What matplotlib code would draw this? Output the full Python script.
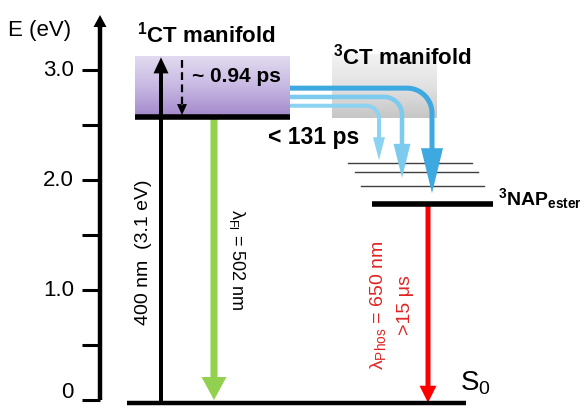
import numpy as np
import matplotlib
matplotlib.use("Agg")
import matplotlib.pyplot as plt
from matplotlib.colors import LinearSegmentedColormap

plt.rcParams['font.family'] = ['Liberation Sans', 'DejaVu Sans']
plt.rcParams['mathtext.fontset'] = 'custom'
plt.rcParams['mathtext.rm'] = 'Liberation Sans'
plt.rcParams['mathtext.bf'] = 'Liberation Sans:bold'
plt.rcParams['mathtext.it'] = 'Liberation Sans:italic'

# energy axis (eV)
tick_values = [0, 0.5, 1.0, 1.5, 2.0, 2.5, 3.0]
tick_labels = ["0", "", "1.0", "", "2.0", "", "3.0"]
axis_top = 3.5

# states (eV)
ground_level = -0.025
ct1_level = 2.57
ct1_top = 3.12
ct3_bottom = 2.56
ct3_top = 3.14
nap_level = 1.78
vib_levels = [2.155, 2.075, 1.945]

# intersystem crossing arrows: start energy, end energy
isc_start = [2.835, 2.755, 2.675]
isc_end = [1.88, 2.02, 2.18]
isc_colors = ["#3ea8e0", "#7ccbee", "#8cd2f1"]

PX = 110.0  # pixels per eV

fig = plt.figure(figsize=(5.88, 4.07), dpi=100)
ax = fig.add_axes([0, 0, 1, 1])


def varrow(x, y0, y1, color, shaft, hw, hl, z=3):
    ax.arrow(x, y0, 0, y1 - y0, width=shaft, head_width=hw, head_length=hl / PX,
             length_includes_head=True, color=color, lw=0, zorder=z)


# manifolds as gradient boxes
grad = np.linspace(0, 1, 256).reshape(-1, 1)
purple = LinearSegmentedColormap.from_list("p", ["#a288cc", "#c7b8e2", "#e2dbf0"])
gray = LinearSegmentedColormap.from_list("g", ["#c6c6c6", "#e2e2e2", "#f3f3f3"])
ax.imshow(grad, extent=[135, 290, ct1_level, ct1_top], cmap=purple, aspect='auto',
          origin='lower', zorder=1)
ax.imshow(grad, extent=[332, 437, ct3_bottom, ct3_top], cmap=gray, aspect='auto',
          origin='lower', zorder=1)

# energy axis
ax.plot([100, 100], [0, axis_top - 0.05], color='k', lw=3.2, solid_capstyle='butt', zorder=4)
varrow(100, axis_top - 0.12, axis_top, 'k', 4.4, 13, 12, z=4)
for v, lab in zip(tick_values, tick_labels):
    ax.plot([82, 100], [v, v], color='k', lw=2.2, solid_capstyle='butt', zorder=4)
    if lab:
        # keep the bottom label inside the picture
        ax.text(74, max(v, 0.07), lab, ha='right', va='center', fontsize=16)
ax.text(8, 3.36, "E (eV)", ha='left', va='center', fontsize=16)

# levels
ax.plot([127, 466], [ground_level, ground_level], color='k', lw=3.2, solid_capstyle='butt', zorder=4)
ax.plot([135, 290], [ct1_level, ct1_level], color='k', lw=4, solid_capstyle='butt', zorder=4)
ax.plot([372, 493], [nap_level, nap_level], color='k', lw=4, solid_capstyle='butt', zorder=4)
vib_x = [(348, 472), (355, 478), (361, 484)]
for (xa, xb), v in zip(vib_x, vib_levels):
    ax.plot([xa, xb], [v, v], color='#404040', lw=1.0, zorder=2)

# excitation, fluorescence, phosphorescence
varrow(161, ground_level, ct1_top - 0.005, 'k', 4, 15, 16)
varrow(214, ct1_level, 0.0, '#92d050', 7, 25, 23)
varrow(428, nap_level, ground_level, '#ff0000', 5, 17, 17)

# relaxation inside 1CT manifold
ax.plot([182, 182], [3.09, 2.68], color='k', lw=1.6, dashes=(3.5, 2), zorder=3)
varrow(182, 2.68, ct1_level + 0.02, 'k', 1.5, 10, 11)

# ISC arrows
corner_x = [432, 402, 379]
radius = [25, 18, 13]
shaft = [5, 4.5, 4]
heads = [(22, 45), (17, 34), (12, 23)]
for y0, y1, xc, r, s, (hw, hl), c in zip(isc_start, isc_end, corner_x, radius, shaft, heads, isc_colors):
    t = np.linspace(np.pi / 2, 0, 30)
    cx, cy = xc - r, y0 - r / PX
    xs = np.concatenate([[290], cx + r * np.cos(t)])
    ys = np.concatenate([[y0], cy + (r / PX) * np.sin(t)])
    ax.plot(xs, ys, color=c, lw=s * 0.72, solid_capstyle='butt', zorder=3)
    varrow(xc, cy + 0.002, y1, c, s, hw, hl)

# labels
ax.text(137, 3.32, "$^{\\mathbf{1}}$CT manifold", ha='left', va='center', fontsize=16, fontweight='bold')
ax.text(333, 3.12, "$^{\\mathbf{3}}$CT manifold", ha='left', va='center', fontsize=16, fontweight='bold')
ax.text(192, 2.945, "~ 0.94 ps", ha='left', va='center', fontsize=15, fontweight='bold')
ax.text(268, 2.39, "< 131 ps", ha='left', va='center', fontsize=16.5, fontweight='bold')
ax.text(498, 1.827, "$^{\\mathbf{3}}$NAP$_{\\mathbf{ester}}$", ha='left', va='center', fontsize=14, fontweight='bold')
ax.text(460, 0.155, "S$_0$", ha='left', va='center', fontsize=20)
ax.text(143, 1.345, "400 nm  (3.1 eV)", rotation=90, ha='center', va='center', fontsize=14)
ax.text(237, 1.27, "λ$_{\\mathrm{Fl}}$ = 502 nm", rotation=270, ha='center', va='center', fontsize=13)
ax.text(378, 0.864, "λ$_{\\mathrm{Phos}}$ = 650 nm", rotation=90, ha='center', va='center',
        fontsize=14, color='#e02424')
ax.text(405, 0.864, ">15 μs", rotation=90, ha='center', va='center', fontsize=14, color='#e02424')

ax.set_xlim(0, 588)
ax.set_ylim(-7 / PX, 400 / PX)
ax.axis('off')
fig.savefig("out.png", dpi=100)
